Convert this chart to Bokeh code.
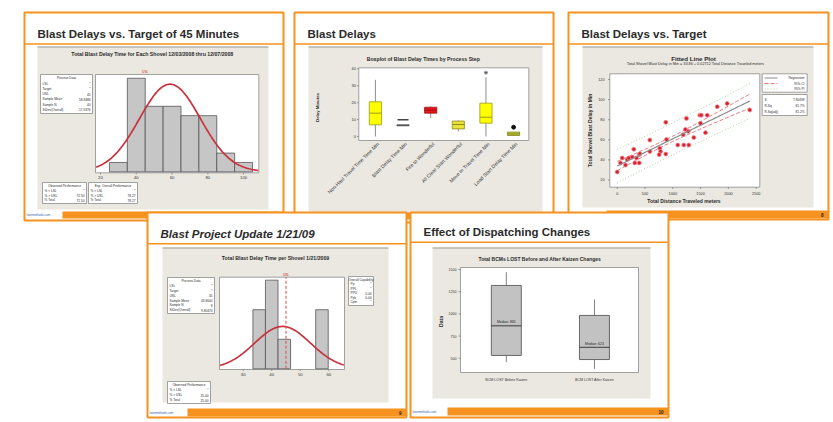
import numpy as np
from bokeh.plotting import figure
from bokeh.models import Range1d
from bokeh.core.properties import value
from bokeh.embed import file_html
from bokeh.resources import INLINE

# ====================== data ======================
slide_titles = ["Blast Delays vs. Target of 45 Minutes", "Blast Delays", "Blast Delays vs. Target",
                "Blast Project Update 1/21/09", "Effect of Dispatching Changes"]
page_numbers = ["8", "9", "10"]

# slide 1: capability histogram
h1_title = "Total  Blast Delay Time for Each Shovel 12/03/2008 thru 12/07/2008"
h1_bins = [30, 40, 50, 60, 70, 80, 90, 100]
h1_counts = [1, 10, 7, 7, 6, 6, 2, 1]
h1_binwidth = 10
h1_mean = 58.8486
h1_sd = 17.0376
h1_usl = 45
h1_ticks = [20, 40, 60, 80, 100]
h1_process = [("LSL", "*"), ("Target", "*"), ("USL", "45"), ("Sample Mean", "58.8486"),
              ("Sample N", "40"), ("StDev(Overall)", "17.0376")]
h1_observed = [("% < LSL", "*"), ("% > USL", "72.50"), ("% Total", "72.50")]
h1_expected = [("% < LSL", "*"), ("% > USL", "78.27"), ("% Total", "78.27")]

# slide 2: boxplot by process step
bp_title = "Boxplot of  Blast Delay Times by Process Step"
bp_steps = ["Non-Haul Travel Time Time Min", "Blast Delay Time Min", "Fire to Wonderful",
            "All Clear Start Wonderful", "Move In Travel Time Min", "Load Start Delay Time Min"]
bp_lo = [0.0, 6.3, 11.0, 3.0, 0.0, 0.6]
bp_q1 = [6.9, 6.3, 13.8, 4.5, 7.9, 0.6]
bp_med = [13.8, 6.6, 15.6, 7.1, 11.4, 1.5]
bp_q3 = [20.5, 6.9, 17.3, 9.1, 19.7, 2.6]
bp_hi = [33.5, 6.9, 17.8, 9.6, 35.0, 2.6]
bp_fill = ["#ffff00", "#8c8c8c", "#e8141c", "#e9e43a", "#ffff00", "#c9cf3c"]
bp_edge = ["#9c9a10", "#555555", "#9a1010", "#8f8a18", "#9c9a10", "#7f8420"]
bp_out_step = [2, 5, 6]
bp_out_val = [9.9, 37.7, 5.5]
bp_out_marker = ["dash", "asterisk", "circle"]
bp_yticks = [0, 10, 20, 30, 40]

# slide 3: fitted line plot
fit_title = "Fitted Line Plot"
fit_eq = "Total Shovel Blast Delay in Min  =  33.86 + 0.02712 Total Distance Traveled meters"
fit_b0 = 33.86
fit_b1 = 0.02712
fit_s = 7.8
fit_stats = [("S", "7.80498"), ("R-Sq", "81.7%"), ("R-Sq(adj)", "81.2%")]
dist = [0, 59, 90, 149, 180, 209, 270, 299, 317, 347, 396, 407, 396, 587, 587, 766, 779, 755,
        874, 887, 874, 1090, 1187, 1198, 1228, 1246, 1277, 1288, 1378, 1486, 1511, 1498, 1619,
        1588, 1799, 1978, 2385]
delay = [28.0, 37.0, 41.9, 34.8, 40.3, 41.9, 42.8, 50.6, 37.0, 41.9, 45.2, 46.1, 37.0, 59.7,
         48.4, 51.6, 48.4, 45.2, 77.4, 60.3, 45.8, 54.8, 65.1, 54.8, 70.3, 81.3, 68.4, 54.8,
         62.2, 84.5, 84.5, 76.4, 84.5, 67.1, 92.9, 96.1, 89.7]
fit_xticks = [0, 500, 1000, 1500, 2000, 2500]
fit_yticks = [20, 40, 60, 80, 100, 120]

# slide 4: capability histogram 1/21/2009
h4_title = "Total Blast Delay Time per Shovel 1/21/2009"
h4_bins = [35.6, 40.0, 44.4, 57.6]
h4_counts = [2, 3, 1, 2]
h4_binwidth = 4.4
h4_mean = 43.8
h4_sd = 9.8
h4_usl = 45
h4_ticks = [30, 40, 50, 60]
h4_process = [("LSL", "*"), ("Target", "*"), ("USL", "45"), ("Sample Mean", "43.8000"),
              ("Sample N", "8"), ("StDev(Overall)", "9.80470")]
h4_capability = [("Pp", "*"), ("PPL", "*"), ("PPU", "0.04"), ("Ppk", "0.04"), ("Cpm", "*")]
h4_observed = [("% < LSL", "*"), ("% > USL", "25.00"), ("% Total", "25.00")]

# slide 5: BCMs lost boxplot
bcm_title = "Total BCMs  LOST Before and After Kaizen Changes"
bcm_groups = ["BCM LOST Before Kaizen", "BCM LOST After Kaizen"]
bcm_lo = [455, 380]
bcm_q1 = [531, 485]
bcm_med = [865, 623]
bcm_q3 = [1320, 982]
bcm_hi = [1470, 1162]
bcm_yticks = [500, 750, 1000, 1250, 1500]

# ====================== drawing ======================
ORANGE = "#f6921e"
PANEL = "#ebe8e1"
FRAME = "#8c8c8c"
FONT = "Liberation Sans"

p = figure(width=833, height=422, x_range=Range1d(0, 833), y_range=Range1d(-422, 0),
           output_backend="svg", toolbar_location=None, min_border=0,
           x_axis_type=None, y_axis_type=None)
p.outline_line_color = None
p.background_fill_color = "white"
p.grid.visible = False


def R(x0, y0, x1, y1, fill=None, line=None, lw=1.0, dash="solid"):
    p.quad(left=[x0], right=[x1], top=[-y0], bottom=[-y1], fill_color=fill,
           line_color=line, line_width=lw, line_dash=dash)


def L(xs, ys, color, lw=1.0, dash="solid"):
    p.line(x=list(xs), y=[-v for v in ys], line_color=color, line_width=lw, line_dash=dash)


def T(x, y, s, size, color="#2a2a2a", style="normal", align="left", baseline="middle",
      angle=0.0, font=FONT):
    p.text(x=[x], y=[-y], text=[s], text_font=value(font), text_font_size=f"{size}px",
           text_font_style=style, text_color=color, text_align=align,
           text_baseline=baseline, angle=angle)


class Sub:
    def __init__(self, xs, ys, px, py):
        self.xs, self.ys, self.px, self.py = xs, ys, px, py
        self.g = p.subplot(x_source=Range1d(xs[0], xs[1]), y_source=Range1d(ys[0], ys[1]),
                           x_target=Range1d(px[0], px[1]), y_target=Range1d(-py[0], -py[1]))
        self.kx = (xs[1] - xs[0]) / (px[1] - px[0])
        self.ky = (ys[1] - ys[0]) / (py[0] - py[1])

    def vx(self, ix):
        return self.xs[0] + (ix - self.px[0]) * self.kx

    def vy(self, iy):
        return self.ys[0] + (self.py[0] - iy) * self.ky

    def text(self, x, y, t, size, color="#333333", style="normal", align="center",
             baseline="middle", angle=0.0):
        self.g.text(x=list(x), y=list(y), text=list(t), text_font=value(FONT),
                    text_font_size=f"{size}px", text_font_style=style, text_color=color,
                    text_align=align, text_baseline=baseline, angle=angle)


def info_box(x0, y0, x1, y1, heading, rows, size=3.2):
    R(x0, y0, x1, y1, fill="white", line=FRAME, lw=0.8)
    n = len(rows) + 1
    step = (y1 - y0 - 2) / n
    T((x0 + x1) / 2, y0 + 1 + step * 0.5, heading, size, align="center")
    for i, (k, v) in enumerate(rows):
        yy = y0 + 1 + step * (i + 1.5)
        T(x0 + 2, yy, k, size)
        T(x1 - 2, yy, v, size, align="right")


def slide(x0, y0, x1, y1, title, ty, sep, panel, foot, logo_x, page=None, tstyle="bold"):
    R(x0, y0, x1, y1, fill="white", line=ORANGE, lw=2)
    L([x0, x1], [sep, sep], ORANGE, 1.5)
    T(x0 + 13, ty, title, 11.5, color="#2b2b2b", style=tstyle)
    R(panel[0], panel[1], panel[2], panel[3], fill=PANEL, line=None)
    L([panel[0], panel[2]], [panel[1] + 0.5, panel[1] + 0.5], "#9a9a9a", 1)
    R(logo_x, foot[0], x1, foot[1], fill=ORANGE, line=None)
    T(x0 + 2, (foot[0] + foot[1]) / 2, "leanmethods.com", 3, color="#2f5fb0")
    if page:
        T(x1 - 5, (foot[0] + foot[1]) / 2, page, 4.5, color="#222222", style="bold", align="right")


def normal_curve(sub, mean, sd, n, width, lo, hi):
    xs = np.linspace(lo, hi, 160)
    ys = n * width * np.exp(-0.5 * ((xs - mean) / sd) ** 2) / (sd * np.sqrt(2 * np.pi))
    sub.g.line(x=xs, y=ys, line_color="#c8323c", line_width=1.7)


# ---------- slide 1 ----------
slide(24, 12, 283, 220, slide_titles[0], 33.5, 43.5, (37, 46, 268, 209), (211, 218), 62)
T(152.5, 53, h1_title, 5.2, style="bold", align="center")
R(95, 74, 258.3, 172.3, fill="white", line=FRAME, lw=0.8)
g1 = Sub((17.2, 108.5), (0, 10.4), (95, 258.3), (171.3, 74))
g1.g.vbar(x=h1_bins, width=h1_binwidth, top=h1_counts, bottom=0,
          fill_color="#c6c6c6", line_color="#555555", line_width=0.8)
normal_curve(g1, h1_mean, h1_sd, sum(h1_counts), h1_binwidth, g1.xs[0] + 0.3, g1.xs[1] - 0.3)
g1.g.segment(x0=h1_ticks, x1=h1_ticks, y0=[g1.vy(172.3)] * 5, y1=[g1.vy(174)] * 5,
             line_color="#666666", line_width=0.6)
g1.text(h1_ticks, [g1.vy(176.5)] * 5, [str(t) for t in h1_ticks], 4.3)
g1.text([h1_usl], [g1.vy(71)], ["USL"], 3.2, color="#d02020")
info_box(40, 74, 92, 113, "Process Data", h1_process)
info_box(42, 182, 86, 203, "Observed Performance", h1_observed)
info_box(88, 182, 137, 203, "Exp. Overall Performance", h1_expected)

# ---------- slide 2 ----------
slide(294, 12, 553, 222, slide_titles[1], 33.5, 43.5, (308, 46, 542, 215), (212, 219), 332)
T(423.5, 58.5, bp_title, 5.2, style="bold", align="center")
R(358.3, 67.3, 528.3, 140, fill="white", line=FRAME, lw=0.8)
g2 = Sub((0.4, 6.55), (0, 40), (358.3, 528.3), (136, 68.3))
cats = list(range(1, len(bp_steps) + 1))
half = 0.22
g2.g.segment(x0=cats, x1=cats, y0=bp_lo, y1=bp_q1, line_color="#707070", line_width=0.8)
g2.g.segment(x0=cats, x1=cats, y0=bp_q3, y1=bp_hi, line_color="#707070", line_width=0.8)
g2.g.vbar(x=cats, width=2 * half, bottom=bp_q1, top=bp_q3, fill_color=bp_fill,
          line_color=bp_edge, line_width=0.8)
g2.g.segment(x0=[c - half for c in cats], x1=[c + half for c in cats], y0=bp_med, y1=bp_med,
             line_color=bp_edge, line_width=1.0)
g2.g.scatter(x=bp_out_step, y=bp_out_val, marker=bp_out_marker, size=[11, 4, 4],
             fill_color="#111111", line_color=["#444444", "#555555", "#111111"],
             line_width=[1.6, 0.8, 0.8])
g2.g.segment(x0=[g2.xs[0]] * 5, x1=[g2.vx(356.5)] * 5, y0=bp_yticks, y1=bp_yticks,
             line_color="#666666", line_width=0.6)
g2.text([g2.vx(355.5)] * 5, bp_yticks, [str(t) for t in bp_yticks], 4.0, align="right")
g2.text([c + 0.1 for c in cats], [g2.vy(142.5)] * len(cats), bp_steps, 5.0,
        align="right", angle=np.pi / 4)
T(317, 107, "Delay Minutes", 4.3, style="bold", align="center", angle=np.pi / 2)

# ---------- slide 3 ----------
slide(568, 12, 828, 219, slide_titles[2], 33.5, 43.5, (582, 46, 813, 207), (210, 218), 606,
      page=page_numbers[0])
T(693, 57.7, fit_title, 6.2, style="bold", align="center")
T(696, 63.7, fit_eq, 3.8, align="center")
R(609.3, 73.3, 759.3, 186.7, fill="white", line=FRAME, lw=0.8)
g3 = Sub((-133, 2565), (12.8, 125.7), (609.3, 759.3), (186.7, 73.3))
dx = np.array(dist, dtype=float)
n3 = len(dx)
xbar = dx.mean()
sxx = ((dx - xbar) ** 2).sum()
xf = np.linspace(dx.min(), dx.max(), 80)
yf = fit_b0 + fit_b1 * xf
tcrit = 2.03
ci = tcrit * fit_s * np.sqrt(1.0 / n3 + (xf - xbar) ** 2 / sxx)
pi_ = tcrit * fit_s * np.sqrt(1.0 + 1.0 / n3 + (xf - xbar) ** 2 / sxx)
for sgn in (1, -1):
    g3.g.line(x=xf, y=yf + sgn * pi_, line_color="#9ccf94", line_width=0.9, line_dash="1 2")
    g3.g.line(x=xf, y=yf + sgn * ci, line_color="#e06a6a", line_width=0.9, line_dash="4 2")
g3.g.scatter(x=dist, y=delay, size=4.0, fill_color="#d81e2a", line_color="#f08890",
             line_width=0.8)
g3.g.line(x=xf, y=yf, line_color="#8a8a8a", line_width=1.2)
g3.g.segment(x0=fit_xticks, x1=fit_xticks, y0=[g3.ys[0]] * 6, y1=[g3.vy(188.5)] * 6,
             line_color="#666666", line_width=0.6)
g3.text(fit_xticks, [g3.vy(192.7)] * 6, [str(t) for t in fit_xticks], 3.8)
g3.g.segment(x0=[g3.xs[0]] * 6, x1=[g3.vx(607.5)] * 6, y0=fit_yticks, y1=fit_yticks,
             line_color="#666666", line_width=0.6)
g3.text([g3.vx(604)] * 6, fit_yticks, [str(t) for t in fit_yticks], 3.8, align="right")
T(683.5, 200.7, "Total Distance Traveled meters", 5.0, style="bold", align="center")
T(589.5, 130, "Total Shovel Blast Delay in Min", 5.0, style="bold", align="center",
  angle=np.pi / 2)
R(761.7, 73.3, 806.7, 91.7, fill="white", line=FRAME, lw=0.8)
L([764, 777], [77.5, 77.5], "#8a8a8a", 1.0)
L([764, 777], [83, 83], "#e06a6a", 0.9, "4 2")
L([764, 777], [88.5, 88.5], "#9ccf94", 0.9, "1 2")
T(804, 77.5, "Regression", 3.2, align="right")
T(804, 83, "95% CI", 3.2, align="right")
T(804, 88.5, "95% PI", 3.2, align="right")
R(761.7, 94, 806.7, 115, fill="white", line=FRAME, lw=0.8)
for i, (k, v) in enumerate(fit_stats):
    T(764, 99 + i * 6, k, 3.2)
    T(804, 99 + i * 6, v, 3.2, align="right")

# ---------- slide 4 ----------
slide(147, 212, 406, 417, slide_titles[3], 233, 243.3, (162, 247, 388, 402), (408, 416), 187,
      page=page_numbers[1], tstyle="bold italic")
T(275, 257.7, h4_title, 5.2, style="bold", align="center")
R(219, 276.7, 344, 369, fill="white", line=FRAME, lw=0.8)
g4 = Sub((21.7, 65.5), (0, 3.1), (219, 344), (368.3, 276.7))
g4.g.vbar(x=h4_bins, width=h4_binwidth, top=h4_counts, bottom=0,
          fill_color="#c6c6c6", line_color="#555555", line_width=0.8)
normal_curve(g4, h4_mean, h4_sd, sum(h4_counts), h4_binwidth, g4.xs[0] + 0.2, g4.xs[1] - 0.2)
g4.g.segment(x0=[h4_usl], x1=[h4_usl], y0=[0], y1=[g4.ys[1]], line_color="#d84a4a",
             line_width=1.0, line_dash="3 2")
g4.text([h4_usl], [g4.vy(274)], ["USL"], 3.2, color="#d02020")
g4.g.segment(x0=h4_ticks, x1=h4_ticks, y0=[g4.vy(369)] * 4, y1=[g4.vy(370.5)] * 4,
             line_color="#666666", line_width=0.6)
g4.text(h4_ticks, [g4.vy(373.5)] * 4, [str(t) for t in h4_ticks], 4.3)
info_box(167, 277, 214, 313, "Process Data", h4_process)
info_box(348, 276, 373, 305, "Overall Capability", h4_capability)
info_box(167, 381, 210, 403, "Observed Performance", h4_observed)

# ---------- slide 5 ----------
slide(410, 212, 668, 417, slide_titles[4], 231, 241.7, (432, 247, 650, 398), (407, 415), 447,
      page=page_numbers[2])
T(540, 258, bcm_title, 5.0, style="bold", align="center")
R(460, 267, 638, 372, fill="white", line=FRAME, lw=0.8)
g5 = Sub((0.48, 2.5), (338.8, 1522.5), (460, 638), (372, 267))
grp = [1, 2]
bw = 0.17
g5.g.segment(x0=grp, x1=grp, y0=bcm_lo, y1=bcm_q1, line_color="#808080", line_width=1.0)
g5.g.segment(x0=grp, x1=grp, y0=bcm_q3, y1=bcm_hi, line_color="#808080", line_width=1.0)
g5.g.vbar(x=grp, width=2 * bw, bottom=bcm_q1, top=bcm_q3, fill_color="#c2c2c2",
          line_color="#5a5a5a", line_width=0.9)
g5.g.segment(x0=[g - bw for g in grp], x1=[g + bw for g in grp], y0=bcm_med, y1=bcm_med,
             line_color="#3c3c3c", line_width=1.0)
g5.text(grp, [m + 1.5 * g5.ky for m in bcm_med], [f"Median: {m}" for m in bcm_med], 3.4,
        color="#222222", baseline="bottom")
g5.g.segment(x0=[g5.xs[0]] * 5, x1=[g5.vx(458)] * 5, y0=bcm_yticks, y1=bcm_yticks,
             line_color="#666666", line_width=0.6)
g5.text([g5.vx(456)] * 5, bcm_yticks, [str(t) for t in bcm_yticks], 3.6, align="right")
g5.text(grp, [g5.vy(379)] * 2, bcm_groups, 3.6)
T(440, 321, "Data", 5.0, style="bold", align="center", angle=np.pi / 2)

open("out.html", "w").write(file_html(p, INLINE))
